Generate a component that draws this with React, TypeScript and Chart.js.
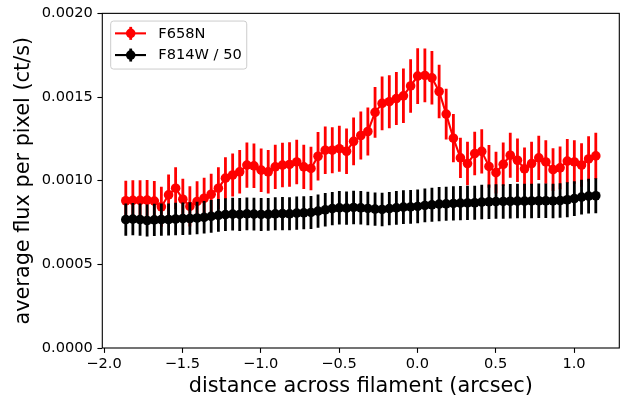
import React, { useEffect, useRef } from 'react';
import { Chart, registerables } from 'chart.js';

Chart.register(...registerables);

const distance = [
  -1.861, -1.816, -1.770, -1.725, -1.679, -1.634, -1.588, -1.543, -1.497, -1.452,
  -1.406, -1.361, -1.316, -1.270, -1.225, -1.179, -1.134, -1.088, -1.043, -0.997,
  -0.952, -0.907, -0.861, -0.816, -0.770, -0.725, -0.679, -0.634, -0.588, -0.543,
  -0.498, -0.452, -0.407, -0.361, -0.316, -0.270, -0.225, -0.179, -0.134, -0.089,
  -0.043, 0.002, 0.048, 0.093, 0.139, 0.184, 0.230, 0.275, 0.320, 0.366,
  0.411, 0.457, 0.502, 0.548, 0.593, 0.639, 0.684, 0.729, 0.775, 0.820,
  0.866, 0.911, 0.957, 1.002, 1.048, 1.093, 1.139,
];

const f658n = [
  0.000880, 0.000882, 0.000882, 0.000884, 0.000878, 0.000844, 0.000915, 0.000955, 0.000889, 0.000846,
  0.000876, 0.000895, 0.000919, 0.000955, 0.001015, 0.001034, 0.001053, 0.001093, 0.001089, 0.001063,
  0.001053, 0.001083, 0.001093, 0.001097, 0.001112, 0.001083, 0.001073, 0.001146, 0.001182, 0.001182,
  0.001191, 0.001176, 0.001235, 0.001270, 0.001294, 0.001408, 0.001462, 0.001472, 0.001491, 0.001507,
  0.001566, 0.001625, 0.001629, 0.001615, 0.001533, 0.001398, 0.001254, 0.001136, 0.001102, 0.001162,
  0.001175, 0.001085, 0.001048, 0.001098, 0.001152, 0.001122, 0.001071, 0.001102, 0.001136, 0.001112,
  0.001066, 0.001077, 0.001117, 0.001112, 0.001093, 0.001130, 0.001148,
];

const f658nErr = [
  0.000120, 0.000120, 0.000120, 0.000120, 0.000120, 0.000120, 0.000122, 0.000125, 0.000122, 0.000120,
  0.000120, 0.000122, 0.000122, 0.000125, 0.000125, 0.000128, 0.000130, 0.000135, 0.000133, 0.000130,
  0.000130, 0.000132, 0.000133, 0.000133, 0.000133, 0.000132, 0.000130, 0.000145, 0.000142, 0.000138,
  0.000138, 0.000136, 0.000143, 0.000143, 0.000143, 0.000152, 0.000160, 0.000158, 0.000158, 0.000163,
  0.000160, 0.000166, 0.000161, 0.000160, 0.000160, 0.000152, 0.000144, 0.000120, 0.000130, 0.000130,
  0.000132, 0.000128, 0.000125, 0.000130, 0.000134, 0.000130, 0.000128, 0.000130, 0.000132, 0.000130,
  0.000128, 0.000128, 0.000132, 0.000130, 0.000130, 0.000135, 0.000138,
];

const f814w = [
  0.000767, 0.000770, 0.000767, 0.000762, 0.000766, 0.000767, 0.000768, 0.000771, 0.000773, 0.000774,
  0.000777, 0.000781, 0.000787, 0.000793, 0.000797, 0.000800, 0.000798, 0.000802, 0.000800, 0.000798,
  0.000799, 0.000802, 0.000803, 0.000802, 0.000806, 0.000808, 0.000810, 0.000818, 0.000826, 0.000833,
  0.000838, 0.000836, 0.000840, 0.000838, 0.000834, 0.000830, 0.000828, 0.000833, 0.000838, 0.000842,
  0.000843, 0.000846, 0.000852, 0.000856, 0.000860, 0.000862, 0.000864, 0.000866, 0.000867, 0.000868,
  0.000872, 0.000874, 0.000875, 0.000876, 0.000877, 0.000878, 0.000878, 0.000879, 0.000880, 0.000880,
  0.000879, 0.000881, 0.000886, 0.000893, 0.000902, 0.000908, 0.000910,
];

const f814wErr = [
  0.000096, 0.000096, 0.000096, 0.000096, 0.000096, 0.000096, 0.000096, 0.000097, 0.000097, 0.000097,
  0.000097, 0.000097, 0.000098, 0.000098, 0.000098, 0.000098, 0.000098, 0.000098, 0.000098, 0.000098,
  0.000098, 0.000099, 0.000099, 0.000099, 0.000099, 0.000099, 0.000099, 0.000100, 0.000100, 0.000100,
  0.000100, 0.000100, 0.000100, 0.000100, 0.000100, 0.000100, 0.000100, 0.000100, 0.000101, 0.000101,
  0.000101, 0.000101, 0.000101, 0.000101, 0.000102, 0.000102, 0.000102, 0.000102, 0.000102, 0.000102,
  0.000103, 0.000103, 0.000103, 0.000103, 0.000103, 0.000103, 0.000103, 0.000103, 0.000103, 0.000103,
  0.000103, 0.000103, 0.000104, 0.000104, 0.000104, 0.000104, 0.000104,
];

const xTickValues = [-2.0, -1.5, -1.0, -0.5, 0.0, 0.5, 1.0];
const yTickValues = [0, 0.0005, 0.001, 0.0015, 0.002];
const seriesNames = ['F658N', 'F814W / 50'];
const seriesColors = ['#ff0000', '#000000'];
const xTitle = 'distance across filament (arcsec)';
const yTitle = 'average flux per pixel (ct/s)';

const FONT = "'DejaVu Sans', sans-serif";

const errorBarPlugin = {
  id: 'errorBars',
  beforeDatasetDraw(chart: any, args: any) {
    const ds = chart.data.datasets[args.index];
    const errs = ds.errors;
    if (!errs) return;
    const meta = args.meta;
    const ys = chart.scales.y;
    const ctx = chart.ctx;
    ctx.save();
    ctx.strokeStyle = ds.borderColor;
    ctx.lineWidth = 2.8;
    ctx.lineCap = 'butt';
    ctx.beginPath();
    meta.data.forEach((pt: any, i: number) => {
      const v = ds.data[i].y;
      const e = errs[i];
      ctx.moveTo(pt.x, ys.getPixelForValue(v + e));
      ctx.lineTo(pt.x, ys.getPixelForValue(v - e));
    });
    ctx.stroke();
    ctx.restore();
  },
};

const framePlugin = {
  id: 'frame',
  afterDatasetsDraw(chart: any) {
    const { ctx, chartArea: ca } = chart;
    ctx.save();
    ctx.strokeStyle = '#000';
    ctx.lineWidth = 1.1;
    ctx.strokeRect(ca.left, ca.top, ca.right - ca.left, ca.bottom - ca.top);
    ctx.restore();
  },
};

const legendPlugin = {
  id: 'mplLegend',
  afterDraw(chart: any) {
    const { ctx, chartArea: ca } = chart;
    const fs = 14.6;
    ctx.save();
    ctx.font = `${fs}px ${FONT}`;
    const tw = Math.max(...seriesNames.map((n) => ctx.measureText(n).width));
    const left = ca.left + 8.4;
    const top = ca.top + 7.7;
    const w = 47.6 + tw + 5;
    const h = 48;
    const r = 2.8;
    ctx.beginPath();
    ctx.moveTo(left + r, top);
    ctx.lineTo(left + w - r, top);
    ctx.arcTo(left + w, top, left + w, top + r, r);
    ctx.lineTo(left + w, top + h - r);
    ctx.arcTo(left + w, top + h, left + w - r, top + h, r);
    ctx.lineTo(left + r, top + h);
    ctx.arcTo(left, top + h, left, top + h - r, r);
    ctx.lineTo(left, top + r);
    ctx.arcTo(left, top, left + r, top, r);
    ctx.closePath();
    ctx.fillStyle = 'rgba(255,255,255,0.8)';
    ctx.fill();
    ctx.strokeStyle = '#cccccc';
    ctx.lineWidth = 1;
    ctx.stroke();

    seriesNames.forEach((name, k) => {
      const cy = top + 12.3 + k * 21.7;
      const color = seriesColors[k];
      const hx0 = left + 4.3;
      const hx1 = left + 35.3;
      const cx = left + 20;
      ctx.strokeStyle = color;
      ctx.lineWidth = 2.1;
      ctx.beginPath();
      ctx.moveTo(hx0, cy);
      ctx.lineTo(hx1, cy);
      ctx.stroke();
      ctx.lineWidth = 2.8;
      ctx.beginPath();
      ctx.moveTo(cx, cy - 6.5);
      ctx.lineTo(cx, cy + 6.5);
      ctx.stroke();
      ctx.fillStyle = color;
      ctx.beginPath();
      ctx.arc(cx, cy, 4.8, 0, Math.PI * 2);
      ctx.fill();
      ctx.fillStyle = '#000';
      ctx.textBaseline = 'middle';
      ctx.textAlign = 'left';
      ctx.fillText(name, left + 47.6, cy + 0.5);
    });
    ctx.restore();
  },
};

export default function App() {
  const canvasRef = useRef<HTMLCanvasElement | null>(null);

  useEffect(() => {
    if (!canvasRef.current) return;
    const mkData = (vals: number[]) => distance.map((x, i) => ({ x, y: vals[i] }));
    const chart = new Chart(canvasRef.current, {
      type: 'line',
      data: {
        datasets: [
          {
            label: seriesNames[0],
            data: mkData(f658n),
            errors: f658nErr,
            borderColor: seriesColors[0],
            backgroundColor: seriesColors[0],
            pointBackgroundColor: seriesColors[0],
            pointBorderWidth: 0,
            pointRadius: 4.8,
            borderWidth: 2.1,
            tension: 0,
            fill: false,
            order: 1,
          } as any,
          {
            label: seriesNames[1],
            data: mkData(f814w),
            errors: f814wErr,
            borderColor: seriesColors[1],
            backgroundColor: seriesColors[1],
            pointBackgroundColor: seriesColors[1],
            pointBorderWidth: 0,
            pointRadius: 4.8,
            borderWidth: 2.1,
            tension: 0,
            fill: false,
            order: 0,
          } as any,
        ],
      },
      options: {
        animation: false,
        responsive: false,
        devicePixelRatio: 1,
        layout: { padding: { left: 0, right: 12.7, top: 10, bottom: 0 } },
        plugins: {
          legend: { display: false },
          tooltip: { enabled: false },
        },
        scales: {
          x: {
            type: 'linear',
            min: -2.011,
            max: 1.289,
            afterBuildTicks: (s: any) => {
              s.ticks = xTickValues.map((v) => ({ value: v }));
            },
            afterFit: (s: any) => {
              s.height = 55;
            },
            grid: {
              display: true,
              drawOnChartArea: false,
              drawTicks: true,
              tickLength: 4.9,
              tickWidth: 1.1,
              tickColor: '#000',
            },
            border: { display: false },
            ticks: {
              color: '#000',
              font: { family: FONT, size: 14.6 },
              padding: 2.5,
              maxRotation: 0,
              autoSkip: false,
              callback: (v: any) => Number(v).toFixed(1).replace('-', '\u2212'),
            },
            title: {
              display: true,
              text: xTitle,
              color: '#000',
              font: { family: FONT, size: 20.8, lineHeight: 1 },
              padding: { top: 5.5, bottom: 5.5 },
            },
          },
          y: {
            type: 'linear',
            min: 0,
            max: 0.002,
            afterBuildTicks: (s: any) => {
              s.ticks = yTickValues.map((v) => ({ value: v }));
            },
            afterFit: (s: any) => {
              s.width = 102.3;
            },
            grid: {
              display: true,
              drawOnChartArea: false,
              drawTicks: true,
              tickLength: 4.9,
              tickWidth: 1.1,
              tickColor: '#000',
            },
            border: { display: false },
            ticks: {
              color: '#000',
              font: { family: FONT, size: 14.6 },
              padding: 4.6,
              autoSkip: false,
              callback: (v: any) => Number(v).toFixed(4),
            },
            title: {
              display: true,
              text: yTitle,
              color: '#000',
              font: { family: FONT, size: 20.8, lineHeight: 1 },
              padding: { top: 13.4, bottom: 13.4 },
            },
          },
        },
      } as any,
      plugins: [errorBarPlugin, framePlugin, legendPlugin],
    });
    return () => chart.destroy();
  }, []);

  return (
    <div style={{ position: 'absolute', left: 0, top: 0, width: 632, height: 403, background: '#fff' }}>
      <canvas ref={canvasRef} width={632} height={403} style={{ width: 632, height: 403, display: 'block' }} />
    </div>
  );
}
